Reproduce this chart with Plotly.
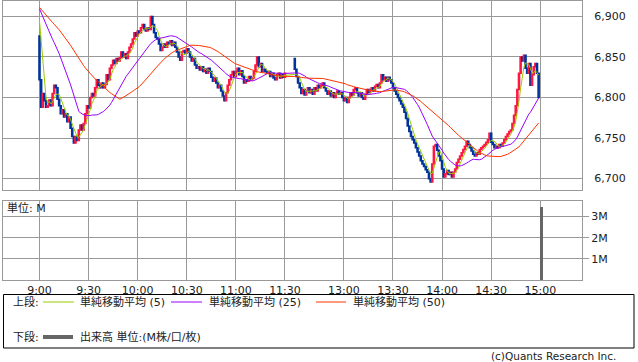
import plotly.graph_objects as go
import pandas as pd

# ---------------- data ----------------
prev_close = 6913          # previous session level feeding the moving averages
morning_open = 6876        # 9:00 open
afternoon_open = 6848      # 12:30 open

# 1-minute closes 9:00 .. 11:30
morning_closes = [
    6822, 6788, 6805, 6796, 6788, 6790, 6797, 6790, 6805, 6815,
    6812, 6798, 6790, 6780, 6785, 6776, 6780, 6770, 6776, 6762,
    6752, 6744, 6752, 6747, 6760, 6766, 6760, 6768, 6780, 6790,
    6787, 6800, 6805, 6802, 6812, 6822, 6815, 6812, 6818, 6812,
    6816, 6828, 6822, 6836, 6840, 6846, 6842, 6848, 6845, 6849,
    6856, 6850, 6854, 6848, 6856, 6862, 6866, 6872, 6880, 6876,
    6882, 6880, 6886, 6890, 6884, 6882, 6886, 6884, 6900, 6890,
    6880, 6874, 6872, 6866, 6858, 6862, 6866, 6862, 6868, 6866,
    6870, 6864, 6868, 6862, 6856, 6850, 6846, 6856, 6858, 6855,
    6860, 6856, 6850, 6845, 6848, 6840, 6836, 6838, 6834, 6838,
    6832, 6835, 6830, 6836, 6832, 6825, 6820, 6824, 6818, 6812,
    6815, 6808, 6802, 6796, 6806, 6815, 6822, 6828, 6832, 6826,
    6832, 6836, 6828, 6833, 6826, 6818, 6822, 6820, 6826, 6822,
    6824, 6832, 6840, 6850, 6838, 6842, 6832, 6835, 6832, 6830,
    6832, 6826, 6830, 6824, 6822, 6828, 6830, 6824, 6828, 6825,
    6830,
]

# 1-minute closes 12:30 .. 14:59
afternoon_closes = [
    6835, 6826, 6818, 6812, 6805, 6810, 6803, 6808, 6812, 6806,
    6810, 6804, 6812, 6808, 6815, 6812, 6815, 6818, 6812, 6808,
    6804, 6808, 6802, 6806, 6800, 6805, 6808, 6804, 6806, 6800,
    6796, 6800, 6794, 6800, 6806, 6803, 6810, 6812, 6806, 6802,
    6806, 6800, 6798, 6804, 6810, 6806, 6810, 6812, 6808, 6814,
    6816, 6812, 6818, 6828, 6822, 6825, 6820, 6825, 6822, 6818,
    6812, 6808, 6804, 6800, 6796, 6792, 6788, 6782, 6774, 6765,
    6758, 6752, 6748, 6744, 6738, 6733, 6728, 6722, 6718, 6715,
    6711, 6708, 6700, 6696, 6718, 6740, 6742, 6735, 6728, 6722,
    6712, 6702, 6706, 6710, 6705, 6708, 6702, 6708, 6712, 6720,
    6724, 6728, 6732, 6736, 6740, 6746, 6742, 6738, 6734, 6730,
    6728, 6732, 6730, 6736, 6738, 6740, 6742, 6745, 6748, 6756,
    6745, 6742, 6738, 6740, 6738, 6742, 6740, 6744, 6748, 6752,
    6755, 6758, 6760, 6768, 6778, 6790, 6810, 6830, 6850, 6845,
    6852, 6836, 6830, 6842, 6815, 6828, 6838, 6842, 6830, 6800,
]

volume_times = ["15:00"]
volume_values = [3.45]     # millions

price_ticks = [6700, 6750, 6800, 6850, 6900]
volume_ticks = [1, 2, 3]
volume_tick_labels = ["1M", "2M", "3M"]
time_tick_labels = ["9:00", "9:30", "10:00", "10:30", "11:00", "11:30",
                    "13:00", "13:30", "14:00", "14:30", "15:00"]
ma_periods = [5, 25, 50]
ma_colors = ["#99cc00", "#9900ff", "#ff3300"]
ma_names = ["単純移動平均 (5)", "単純移動平均 (25)", "単純移動平均 (50)"]

# ---------------- helpers ----------------
LUNCH_GAP = 6  # compressed lunch break on the axis (minutes)


def t2x(label):
    h, m = map(int, label.split(":"))
    mins = h * 60 + m
    if mins <= 12 * 60:
        return mins - 9 * 60
    return 150 + LUNCH_GAP + (mins - (12 * 60 + 30))


x_morning = [t2x("9:00") + i for i in range(len(morning_closes))]
x_afternoon = [t2x("12:30") + i for i in range(len(afternoon_closes))]
xs = x_morning + x_afternoon
closes = morning_closes + afternoon_closes
opens = [morning_open] + morning_closes[:-1] + [afternoon_open] + afternoon_closes[:-1]
highs = [max(o, c) for o, c in zip(opens, closes)]
lows = [min(o, c) for o, c in zip(opens, closes)]

series = pd.Series([prev_close] * 49 + closes)

fig = go.Figure()

fig.add_trace(go.Candlestick(
    x=xs, open=opens, high=highs, low=lows, close=closes,
    increasing=dict(line=dict(color="#ff1744", width=1.5), fillcolor="#ff1744"),
    decreasing=dict(line=dict(color="#00349c", width=1.5), fillcolor="#00349c"),
    whiskerwidth=0, showlegend=False, hoverinfo="skip",
    xaxis="x", yaxis="y",
))

for p, col, nm in zip(ma_periods, ma_colors, ma_names):
    ma = series.rolling(p).mean().iloc[49:].tolist()
    fig.add_trace(go.Scatter(
        x=xs, y=ma, mode="lines", line=dict(color=col, width=1),
        name=nm, showlegend=False, hoverinfo="skip", xaxis="x", yaxis="y",
    ))

fig.add_trace(go.Bar(
    x=[t2x(t) + 0.6 for t in volume_times], y=volume_values, width=1.8,
    marker=dict(color="#666666", line=dict(width=0)),
    showlegend=False, hoverinfo="skip", xaxis="x2", yaxis="y2",
))

GRID = "#999999"
FONT = dict(family="DejaVu Sans, Noto Sans CJK JP", size=11, color="#222222")

W, H = 638, 362
L, R, T, B = 3, 56, 1, 82
PW, PH = W - L - R, H - T - B


def px_x(px):
    return (px - L) / PW


def px_y(py):
    return (H - B - py) / PH


xr = [-22.3, 331.5]
tickx = [t2x(t) for t in time_tick_labels]

fig.update_layout(
    width=W, height=H,
    margin=dict(l=L, r=R, t=T, b=B, pad=0),
    paper_bgcolor="white", plot_bgcolor="white",
    font=FONT, showlegend=False, bargap=0, boxgap=0.05,
    xaxis=dict(domain=[0, 1], range=xr, anchor="y", tickvals=tickx,
               showticklabels=False, showgrid=True, gridcolor=GRID, gridwidth=1,
               showline=True, mirror=True, linecolor=GRID, zeroline=False,
               ticks="", rangeslider=dict(visible=False)),
    yaxis=dict(domain=[px_y(190), 1], range=[6686, 6919], side="right",
               tickvals=price_ticks, tickformat=",", showgrid=True,
               gridcolor=GRID, gridwidth=1, showline=True, mirror=True,
               linecolor=GRID, zeroline=False, ticks="", ticklabelstandoff=9,
               tickfont=FONT),
    xaxis2=dict(domain=[0, 1], range=xr, anchor="y2", matches="x",
                tickvals=tickx, ticktext=time_tick_labels, showgrid=True,
                gridcolor=GRID, gridwidth=1, showline=True, mirror=True,
                linecolor=GRID, zeroline=False, ticks="", tickfont=FONT),
    yaxis2=dict(domain=[0, px_y(201)], range=[0, 3.74], side="right",
                tickvals=volume_ticks, ticktext=volume_tick_labels,
                showgrid=True, gridcolor=GRID, gridwidth=1, showline=True,
                mirror=True, linecolor=GRID, zeroline=False, ticks="outside",
                ticklen=6, tickcolor=GRID, tickfont=FONT),
)

shapes = [
    dict(type="rect", xref="paper", yref="paper",
         x0=px_x(3.5), x1=px_x(634), y0=px_y(294.5), y1=px_y(348),
         line=dict(color="#000000", width=1), fillcolor="rgba(0,0,0,0)"),
]
for (x0, x1), col in zip([(43, 74), (171, 202), (316, 346)], ma_colors):
    shapes.append(dict(type="line", xref="paper", yref="paper",
                       x0=px_x(x0), x1=px_x(x1), y0=px_y(302), y1=px_y(302),
                       line=dict(color=col, width=1)))
shapes.append(dict(type="line", xref="paper", yref="paper",
                   x0=px_x(43), x1=px_x(73), y0=px_y(337), y1=px_y(337),
                   line=dict(color="#666666", width=4)))
fig.update_layout(shapes=shapes)

SMALL = dict(FONT, size=10.5)
annots = [
    ("単位: M", 5, 208, "left", FONT),
    ("上段:", 11, 302, "left", FONT),
    (ma_names[0], 78, 302, "left", FONT),
    (ma_names[1], 207, 302, "left", FONT),
    (ma_names[2], 351, 302, "left", FONT),
    ("下段:", 11, 337, "left", FONT),
    ("出来高 単位:(M株/口/枚)", 78, 337, "left", FONT),
    ("(c)Quants Research Inc.", 618, 356, "right", SMALL),
]
fig.update_layout(annotations=[
    dict(text=t, xref="paper", yref="paper", x=px_x(x), y=px_y(y),
         xanchor=a, yanchor="middle", showarrow=False, font=f)
    for t, x, y, a, f in annots
])

fig.write_html("out.html")
